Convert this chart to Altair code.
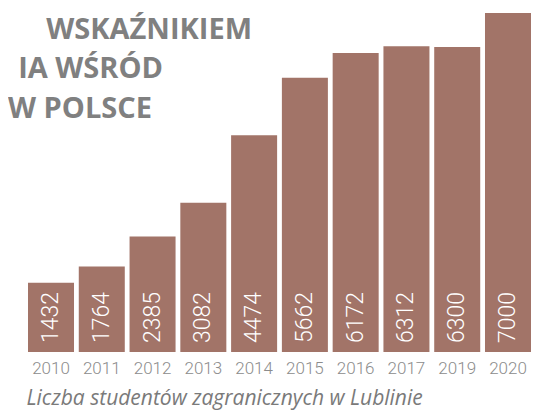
import altair as alt
import pandas as pd

years = ["2010", "2011", "2012", "2013", "2014", "2015", "2016", "2017", "2019", "2020"]
students = [1432, 1764, 2385, 3082, 4474, 5662, 6172, 6312, 6300, 7000]
title_lines = ["WSKAŹNIKIEM", "IA WŚRÓD", "W POLSCE"]
caption = "Liczba studentów zagranicznych w Lublinie"

df = pd.DataFrame({"year": years, "students": students})

BAR = "#a27468"

x = alt.X("year:N", sort=years,
          scale=alt.Scale(paddingInner=0.094, paddingOuter=0),
          axis=alt.Axis(title=caption, labelAngle=0, ticks=False, domain=False,
                        labelPadding=8, labelFontSize=17, labelColor="#8c8c8c",
                        labelFont="Roboto", labelFontWeight=300,
                        titleFont="Open Sans", titleFontStyle="italic",
                        titleFontWeight="normal", titleFontSize=21,
                        titleColor="#7a7a7a", titleAnchor="start",
                        titleAlign="left", titleX=-2, titleY=52,
                        titleBaseline="alphabetic"))
y = alt.Y("students:Q", scale=alt.Scale(domain=[0, 7000], nice=False), axis=None)

bars = alt.Chart(df).mark_bar(color=BAR).encode(x=x, y=y)

labels = alt.Chart(df).mark_text(
    angle=270, align="left", baseline="middle", dx=9,
    color="white", fontSize=23, font="Roboto", fontWeight=300
).encode(x=x, y=alt.datum(0), text="students:Q")

tdf = pd.DataFrame({"line": title_lines, "xe": [224, 135, 124], "yb": [26, 65, 105]})
titles = alt.Chart(tdf).mark_text(
    align="right", baseline="alphabetic", fontSize=29, fontWeight="bold",
    font="Open Sans", color="#808080"
).encode(x=alt.X("xe:Q", scale=None), y=alt.Y("yb:Q", scale=None), text="line:N")

chart = alt.layer(bars, labels, titles).properties(
    width=503, height=339,
    padding={"left": 20, "top": 5, "right": 5, "bottom": 59},
    autosize=alt.AutoSizeParams(type="none"),
).configure_view(stroke=None)

chart.save("out.html", embed_options={"renderer": "svg", "actions": False})
